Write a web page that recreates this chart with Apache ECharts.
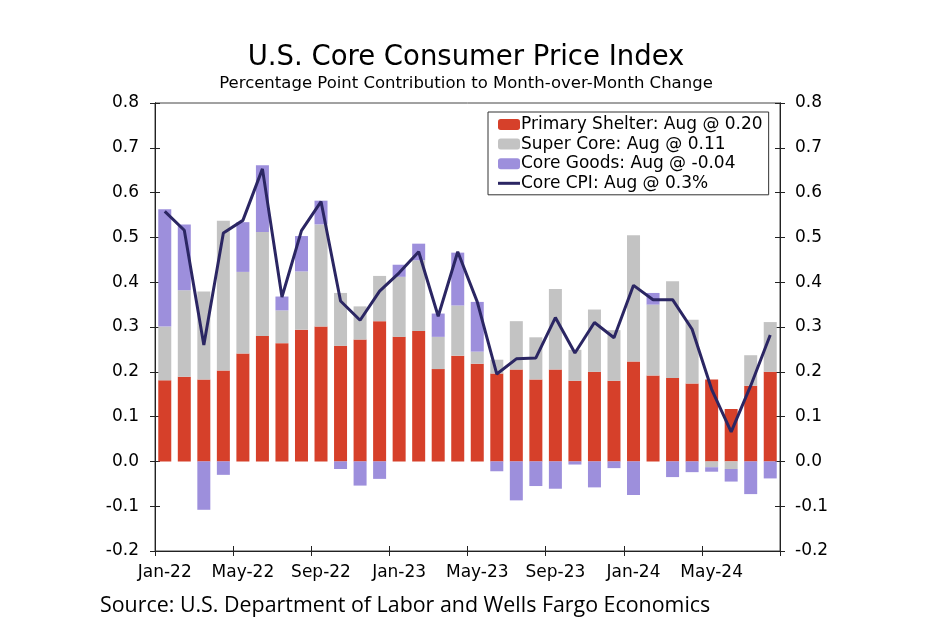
<!DOCTYPE html>
<html>
<head>
<meta charset="utf-8">
<script src="https://cdn.jsdelivr.net/npm/echarts@6/dist/echarts.min.js"></script>
<style>html,body{margin:0;padding:0;background:#fff}#c{width:950px;height:630px}</style>
</head>
<body>
<div id="c"></div>
<script>
var categories = ["Jan-22","Feb-22","Mar-22","Apr-22","May-22","Jun-22","Jul-22","Aug-22","Sep-22","Oct-22","Nov-22","Dec-22",
  "Jan-23","Feb-23","Mar-23","Apr-23","May-23","Jun-23","Jul-23","Aug-23","Sep-23","Oct-23","Nov-23","Dec-23",
  "Jan-24","Feb-24","Mar-24","Apr-24","May-24","Jun-24","Jul-24","Aug-24"];
var shelter = [0.181,0.189,0.183,0.203,0.241,0.280,0.264,0.294,0.301,0.258,0.272,0.313,0.278,0.291,0.206,0.236,0.218,0.196,0.205,0.183,0.205,0.180,0.200,0.180,0.223,0.192,0.186,0.174,0.183,0.117,0.169,0.200];
var superCore = [0.120,0.193,0.196,0.334,0.182,0.232,0.073,0.130,0.228,0.118,0.074,0.101,0.134,0.158,0.072,0.112,0.027,0.031,0.108,0.094,0.180,0.069,0.139,0.113,0.282,0.158,0.216,0.142,-0.013,-0.017,0.068,0.111];
var coreGoods = [0.262,0.147,-0.108,-0.030,0.111,0.149,0.031,0.079,0.053,-0.017,-0.054,-0.039,0.027,0.037,0.052,0.118,0.111,-0.022,-0.087,-0.055,-0.061,-0.007,-0.058,-0.015,-0.075,0.026,-0.035,-0.024,-0.010,-0.028,-0.073,-0.038];
var coreCPI = [0.558,0.516,0.260,0.510,0.538,0.653,0.367,0.515,0.580,0.358,0.315,0.380,0.421,0.468,0.324,0.468,0.356,0.195,0.229,0.231,0.321,0.242,0.310,0.276,0.393,0.361,0.361,0.295,0.161,0.066,0.169,0.282];
var seriesNames = ["Primary Shelter: Aug @ 0.20","Super Core: Aug @ 0.11","Core Goods: Aug @ -0.04","Core CPI: Aug @ 0.3%"];
var titleText = "U.S. Core Consumer Price Index";
var subtitleText = "Percentage Point Contribution to Month-over-Month Change";
var sourceText = "Source: U.S. Department of Labor and Wells Fargo Economics";

var chart = echarts.init(document.getElementById('c'), null, {renderer: 'canvas'});
var FONT = '"DejaVu Sans", Verdana, sans-serif';
var axisColor = '#222';
var LBL = 17;
function yAx(pos, showLabel, inside) {
  return {
    type: 'value', position: pos, min: -0.2, max: 0.8, interval: 0.1,
    axisLine: {show: true, lineStyle: {color: axisColor, width: 1}},
    axisTick: {show: true, inside: inside, length: 5, lineStyle: {color: axisColor}},
    axisLabel: {show: showLabel, margin: pos === 'left' ? 16 : 15, color: '#000', fontFamily: FONT, fontSize: LBL,
      formatter: function (v) { return v.toFixed(1); }},
    splitLine: {show: false}
  };
}
function xAx(showLabel, inside) {
  return {
    type: 'category', data: categories, position: 'bottom', boundaryGap: true,
    axisLine: {show: true, onZero: false, lineStyle: {color: axisColor, width: 1}},
    axisTick: {show: true, inside: inside, length: 5, interval: 3, lineStyle: {color: axisColor}},
    axisLabel: {show: showLabel, interval: 3, margin: 13, color: '#000', fontFamily: FONT, fontSize: LBL}
  };
}
var barW = 13;
chart.setOption({
  animation: false,
  backgroundColor: '#fff',
  grid: {left: 155, right: 170, top: 103, bottom: 79, show: true, borderColor: '#444', borderWidth: 1},
  graphic: [
    {type: 'text', x: 466, y: 58, style: {text: titleText, font: '27.5px ' + FONT, fill: '#000', textAlign: 'center', textVerticalAlign: 'middle'}},
    {type: 'text', x: 466, y: 84, style: {text: subtitleText, font: '16.5px ' + FONT, fill: '#000', textAlign: 'center', textVerticalAlign: 'middle'}},
    {type: 'text', x: 100, y: 606, style: {text: sourceText, font: '21.4px "Open Sans", sans-serif', fill: '#000', textAlign: 'left', textVerticalAlign: 'middle'}}
  ],
  legend: {
    orient: 'vertical', left: 488, top: 112,
    data: [seriesNames[0], seriesNames[1], seriesNames[2], {name: seriesNames[3], icon: 'path://M0,0H22V3H0Z'}],
    itemWidth: 22, itemHeight: 11, itemGap: 2.6,
    padding: [4, 6, 3, 10],
    borderColor: '#333', borderWidth: 1, backgroundColor: '#fff',
    textStyle: {fontFamily: FONT, fontSize: LBL, color: '#000', padding: [0, 0, 0, -4]}
  },
  xAxis: [xAx(true, false), xAx(false, true)],
  yAxis: [yAx('left', true, false), yAx('right', true, false), yAx('left', false, true), yAx('right', false, true)],
  series: [
    {name: seriesNames[0], type: 'bar', stack: 'a', data: shelter, barWidth: barW, itemStyle: {color: '#d6402a'}},
    {name: seriesNames[1], type: 'bar', stack: 'a', data: superCore, barWidth: barW, itemStyle: {color: '#c3c3c3'}},
    {name: seriesNames[2], type: 'bar', stack: 'a', data: coreGoods, barWidth: barW, itemStyle: {color: '#9d8fdc'}},
    {name: seriesNames[3], type: 'line', data: coreCPI, symbol: 'none', lineStyle: {color: '#2b2663', width: 3}, itemStyle: {color: '#2b2663'}, z: 5}
  ]
});
</script>
</body>
</html>
